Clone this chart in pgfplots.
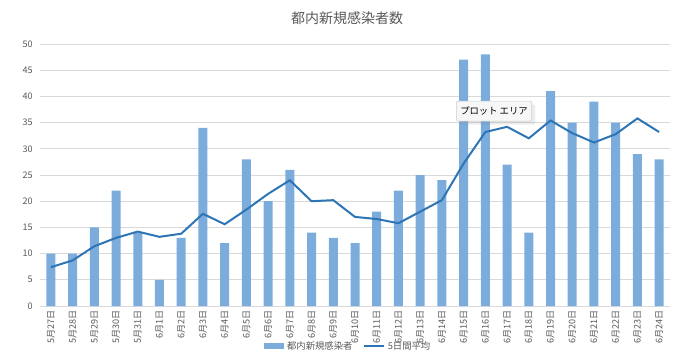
\documentclass[border=0pt]{standalone}
\usepackage{pgfplots}
\pgfplotsset{compat=1.18}
\usepackage{fontspec}
\setmainfont{Noto Sans CJK JP}
\usetikzlibrary{shadows}
\definecolor{barblue}{RGB}{123,172,220}
\definecolor{lineblue}{RGB}{46,117,182}
\definecolor{gridgray}{RGB}{217,217,217}
\definecolor{txtgray}{RGB}{89,89,89}
\pgfplotstableread{
x cases avg
0 10 7.4
1 10 8.7
2 15 11.4
3 22 13.0
4 14 14.2
5 5 13.2
6 13 13.8
7 34 17.6
8 12 15.6
9 28 18.4
10 20 21.4
11 26 24.0
12 14 20.0
13 13 20.2
14 12 17.0
15 18 16.6
16 22 15.8
17 25 18.0
18 24 20.2
19 47 27.2
20 48 33.2
21 27 34.2
22 14 32.0
23 41 35.4
24 35 33.0
25 39 31.2
26 35 32.8
27 29 35.8
28 28 33.2
}\datatable
\begin{document}
\begin{tikzpicture}
\path[use as bounding box] (-30pt,-41.25pt) rectangle (491.25pt,229.5pt);
\node[text=txtgray,font=\fontsize{10.5}{12}\selectfont] at (230.25pt,216pt) {都内新規感染者数};
\begin{axis}[
  at={(0,0)}, anchor=south west,
  scale only axis, width=472.5pt, height=196.5pt,
  xmin=-0.5, xmax=28.5, ymin=0, ymax=50,
  ytick={0,5,...,50},
  xtick={0,...,28},
  xticklabels={5月27日,5月28日,5月29日,5月30日,5月31日,6月1日,6月2日,6月3日,6月4日,6月5日,6月6日,6月7日,6月8日,6月9日,6月10日,6月11日,6月12日,6月13日,6月14日,6月15日,6月16日,6月17日,6月18日,6月19日,6月20日,6月21日,6月22日,6月23日,6月24日},
  x tick label style={rotate=90, anchor=east, font=\fontsize{6.8}{7}\selectfont, text=txtgray},
  y tick label style={font=\fontsize{6.8}{7}\selectfont, text=txtgray, xshift=-2pt},
  /pgf/number format/assume math mode=true,
  major tick length=0pt,
  ymajorgrids, grid style={gridgray, line width=0.6pt},
  axis x line*=bottom, axis y line*=left,
  x axis line style={gridgray, line width=0.6pt, -},
  y axis line style={draw=none},
  legend columns=2,
  legend style={at={(0.49,-0.153)}, anchor=center, draw=none, fill=none,
    font=\fontsize{7}{8}\selectfont, text=txtgray,
    /tikz/every even column/.append style={column sep=6pt}},
  clip=false,
]
\addplot[ybar, bar width=6.75pt, fill=barblue, draw=none,
  legend image code/.code={\fill[barblue] (0pt,-2.5pt) rectangle (15pt,2.5pt);}]
  table[x=x,y=cases] {\datatable};
\addlegendentry{都内新規感染者}
\addplot[lineblue, line width=1.5pt, no marks,
  legend image code/.code={\draw[lineblue, line width=1.5pt] (0pt,0pt) -- (15pt,0pt);}]
  table[x=x,y=avg] {\datatable};
\addlegendentry{5日間平均}
\node[draw=gray!40, fill=gray!6, rounded corners=1.5pt, drop shadow={opacity=0.15},
  font=\fontsize{7}{8}\selectfont, inner sep=3pt, minimum height=15pt, text=black]
  at (axis cs:20.4,37.2) {プロット エリア};
\end{axis}
\end{tikzpicture}
\end{document}
